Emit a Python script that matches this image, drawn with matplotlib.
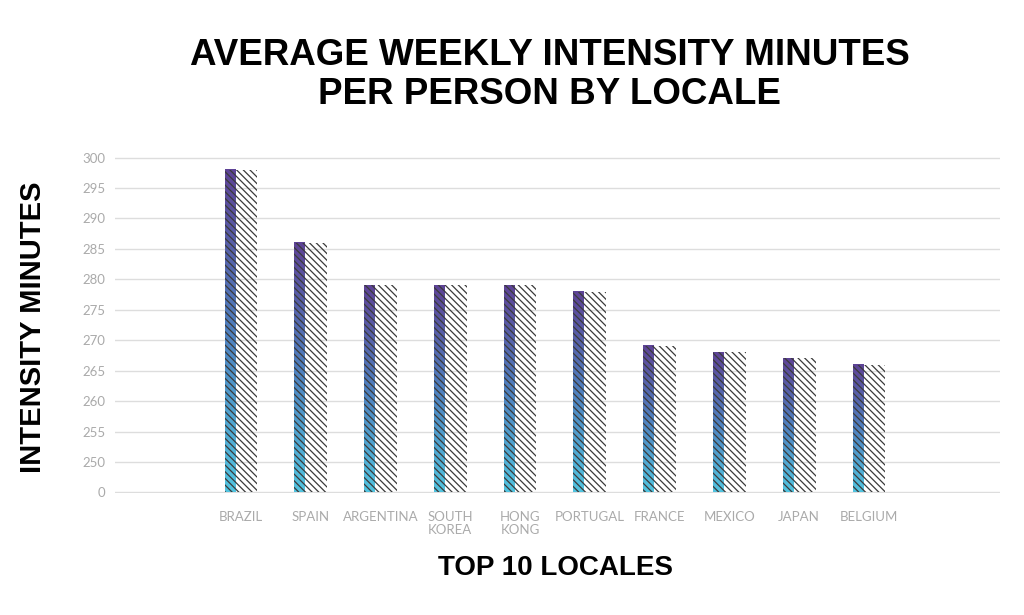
import numpy as np
import matplotlib
matplotlib.use('Agg')
import matplotlib.pyplot as plt
from matplotlib.colors import LinearSegmentedColormap

locales = ['BRAZIL', 'SPAIN', 'ARGENTINA', 'SOUTH\nKOREA', 'HONG\nKONG',
           'PORTUGAL', 'FRANCE', 'MEXICO', 'JAPAN', 'BELGIUM']
minutes = [298, 286, 279, 279, 279, 278, 269, 268, 267, 266]
ytick_values = [0, 250, 255, 260, 265, 270, 275, 280, 285, 290, 295, 300]

# broken axis: 0 sits one step below 250
def to_pos(v):
    return 1 + (v - 250) / 5.0

plt.rcParams['hatch.linewidth'] = 0.9
plt.rcParams['hatch.color'] = '#3a3a3a'

fig = plt.figure(figsize=(10.24, 6.15), dpi=100)
ax = fig.add_axes([115 / 1024, 1 - 493 / 615, 885 / 1024, 336 / 615])

cmap = LinearSegmentedColormap.from_list('grad', ['#52c4e0', '#4f80bf', '#5e4396'])
grad = np.linspace(0, 1, 256).reshape(-1, 1)

x = np.arange(len(locales))
bar_w = 0.47
grad_w = 0.15
for xi, v in zip(x, minutes):
    h = to_pos(v)
    left = xi - bar_w / 2
    ax.imshow(grad, cmap=cmap, origin='lower', aspect='auto',
              extent=[left, left + grad_w, 0, h], zorder=2)
    ax.bar(xi, h, width=bar_w, facecolor='none', edgecolor='#3a3a3a',
           hatch='\\' * 5, linewidth=0, zorder=3)

ax.set_xlim(-1.805, 10.877)
ax.set_ylim(-0.02, 11.02)
ax.set_yticks([to_pos(v) if v else 0 for v in ytick_values])
ax.set_yticklabels([str(v) for v in ytick_values])
ax.set_xticks(x)
ax.set_xticklabels(locales, linespacing=1.05)
ax.tick_params(axis='both', length=0, labelsize=9.5, colors='#aaaaaa')
ax.tick_params(axis='y', pad=7)
ax.tick_params(axis='x', pad=13)
for lab in ax.get_xticklabels() + ax.get_yticklabels():
    lab.set_family('Lato')
ax.yaxis.grid(True, color='#dddddd', linewidth=1)
ax.set_axisbelow(True)
for s in ax.spines.values():
    s.set_visible(False)

fig.text(0.537, 1 - 75 / 615, 'AVERAGE WEEKLY INTENSITY MINUTES\nPER PERSON BY LOCALE',
         ha='center', va='center', fontsize=26.5, fontweight='bold',
         family='Liberation Sans', linespacing=1.15)
fig.text(556 / 1024, 1 - 568 / 615, 'TOP 10 LOCALES', ha='center', va='center',
         fontsize=20, fontweight='bold', family='Liberation Sans')
fig.text(33 / 1024, 1 - 327 / 615, 'INTENSITY MINUTES', ha='center', va='center',
         rotation=90, fontsize=21, fontweight='bold', family='Liberation Sans')

fig.savefig('out.png', dpi=100)
